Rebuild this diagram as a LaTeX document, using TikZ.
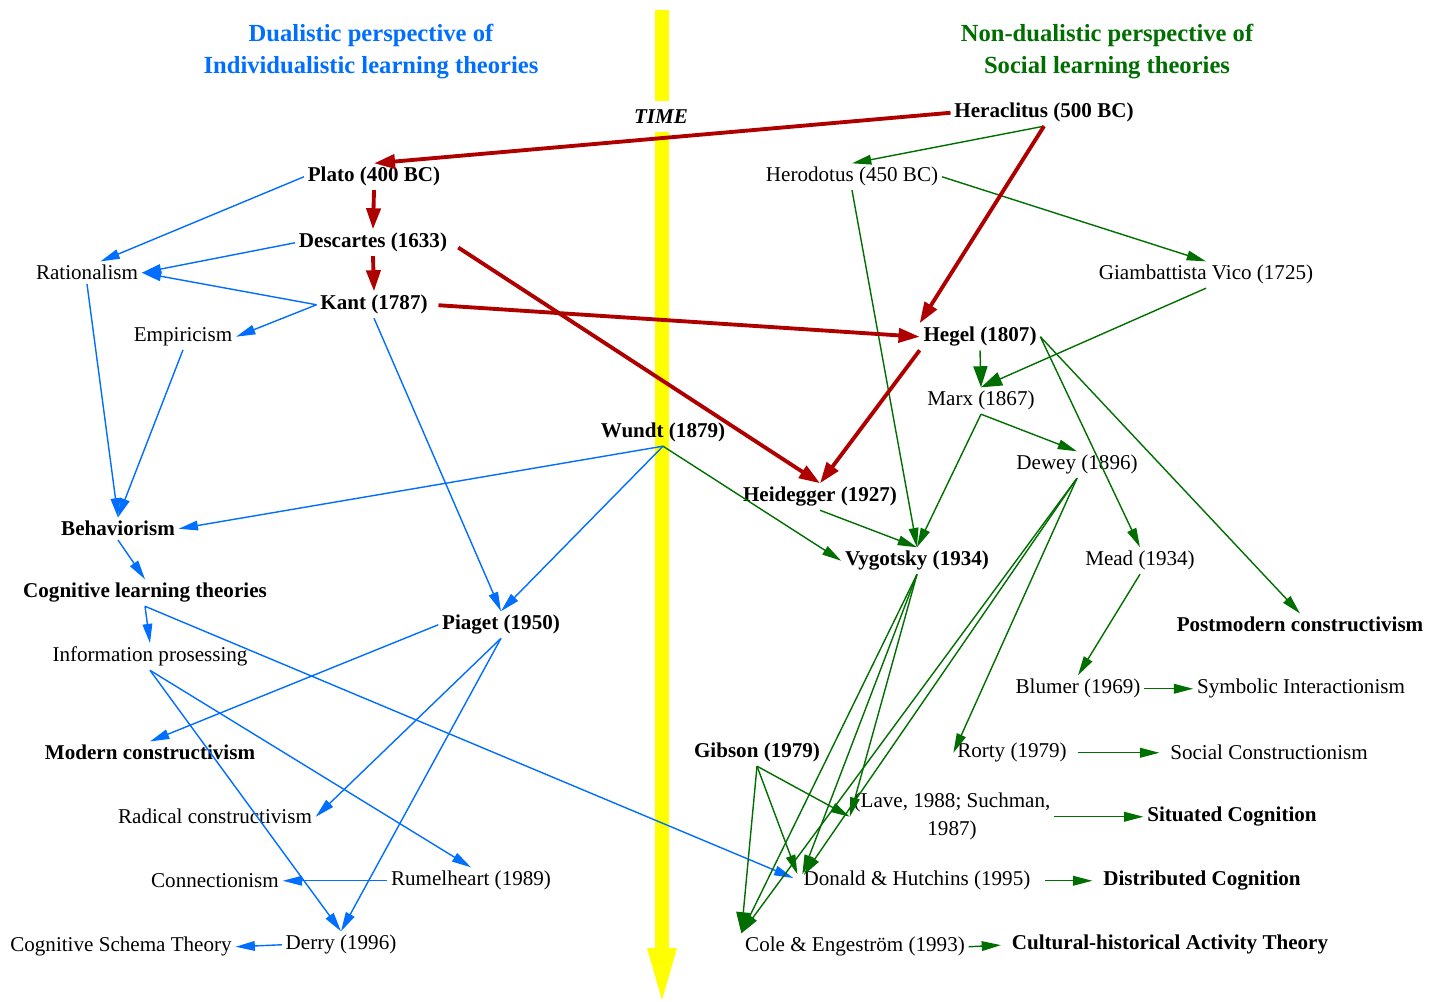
\documentclass[tikz,border=0pt]{standalone}
\usepackage{fontspec}
\setmainfont{Liberation Serif}
\usetikzlibrary{arrows.meta}

\definecolor{dualblue}{RGB}{0,110,255}
\definecolor{socgreen}{RGB}{0,110,0}
\definecolor{histred}{RGB}{175,0,0}
\definecolor{timeyellow}{RGB}{255,255,0}

\begin{document}
\begin{tikzpicture}[x=0.02cm,y=-0.02cm,
    every node/.style={font=\fontsize{12}{16}\selectfont, inner sep=2pt, yshift=-1pt},
    major/.style={font=\fontsize{12}{16}\selectfont\bfseries},
    title/.style={font=\fontsize{14}{18.5}\selectfont\bfseries, align=center, yshift=-1pt},
    timelbl/.style={font=\fontsize{12}{16}\selectfont\bfseries\itshape, fill=white, inner xsep=1pt, inner ysep=5pt},
    redarr/.style={histred, line width=2.2pt, -{Triangle[length=12pt,width=8pt]}},
    bluearr/.style={dualblue, line width=0.8pt, -{Triangle[length=11pt,width=5.5pt]}},
    greenarr/.style={socgreen, line width=0.8pt, -{Triangle[length=11pt,width=5.5pt]}},
    bighead/.style={-{Triangle[length=12pt,width=8pt]}}]

    \useasboundingbox (0,0) rectangle (1443,1001);

    % Time axis
    \fill[timeyellow] (655,10) rectangle (669,950);
    \fill[timeyellow] (647,948) -- (677,948) -- (662,1000) -- cycle;
    \node[timelbl] (time) at (661,115) {TIME};

    % Titles
    \node[title, dualblue] (lefttitle) at (371,48) {Dualistic perspective of\\Individualistic learning theories};
    \node[title, socgreen] (righttitle) at (1107,48) {Non-dualistic perspective of\\Social learning theories};

    % Individualistic side
    \node[major] (plato) at (374,175) {Plato (400 BC)};
    \node[major] (desc) at (373,241) {Descartes (1633)};
    \node[major] (kant) at (374,303) {Kant (1787)};
    \node (rat) at (87,271) {Rationalism};
    \node (emp) at (183,335) {Empiricism};
    \node[major] (wundt) at (663,431) {Wundt (1879)};
    \node[major] (beh) at (118,527) {Behaviorism};
    \node[major] (cog) at (145,591) {Cognitive learning theories};
    \node[major] (piaget) at (501,623) {Piaget (1950)};
    \node (info) at (150,655) {Information prosessing};
    \node[major] (modc) at (150,751) {Modern constructivism};
    \node (radc) at (215,815) {Radical constructivism};
    \node (conn) at (215,879) {Connectionism};
    \node (rum) at (471,879) {Rumelheart (1989)};
    \node (schema) at (121,945) {Cognitive Schema Theory};
    \node (derry) at (341,943) {Derry (1996)};

    % Social side
    \node[major] (her) at (1044,111) {Heraclitus (500 BC)};
    \node (hero) at (852,175) {Herodotus (450 BC)};
    \node (vico) at (1206,273) {Giambattista Vico (1725)};
    \node[major] (hegel) at (980,335) {Hegel (1807)};
    \node (marx) at (981,399) {Marx (1867)};
    \node (dewey) at (1077,463) {Dewey (1896)};
    \node[major] (heid) at (820,495) {Heidegger (1927)};
    \node[major] (vyg) at (917,559) {Vygotsky (1934)};
    \node (mead) at (1140,559) {Mead (1934)};
    \node[major] (post) at (1300,623) {Postmodern constructivism};
    \node (blumer) at (1078,687) {Blumer (1969)};
    \node (symb) at (1301,687) {Symbolic Interactionism};
    \node[major] (gibson) at (757,751) {Gibson (1979)};
    \node (rorty) at (1012,751) {Rorty (1979)};
    \node (socc) at (1269,751) {Social Constructionism};
    \node[align=center] (lave) at (952,815) {(Lave, 1988; Suchman,\\1987)};
    \node[major] (situ) at (1232,815) {Situated Cognition};
    \node (donald) at (917,879) {Donald \& Hutchins (1995)};
    \node[major] (distc) at (1202,879) {Distributed Cognition};
    \node (cole) at (855,945) {Cole \& Engestr\"om (1993)};
    \node[major] (chat) at (1170,943) {Cultural-historical Activity Theory};

    % Blue links
    \draw[bluearr] (plato.west) -- (rat.40);
    \draw[bluearr] (desc.west) -- (rat.east);
    \draw[bluearr] (kant.west) -- (rat.east);
    \draw[bluearr] (kant.west) -- (emp.east);
    \draw[bluearr] (rat.south) -- (beh.north);
    \draw[bluearr] (emp.south) -- (beh.north);
    \draw[bluearr] (kant.south) -- (piaget.north);
    \draw[bluearr] (wundt.south) -- (piaget.north);
    \draw[bluearr] (wundt.south) -- (beh.east);
    \draw[bluearr] (beh.south) -- (cog.north);
    \draw[bluearr] (cog.south) -- (info.north);
    \draw[bluearr, shorten >=4pt] (cog.south) -- (donald.west);
    \draw[bluearr] (piaget.west) -- (modc.north);
    \draw[bluearr] (piaget.south) -- (radc.east);
    \draw[bluearr] (piaget.south) -- (derry.north);
    \draw[bluearr] (info.south) -- (rum.north);
    \draw[bluearr] (info.south) -- (derry.north);
    \draw[bluearr] (rum.west) -- (conn.east);
    \draw[bluearr] (derry.west) -- (schema.east);

    % Green links
    \draw[greenarr] (her.south) -- (hero.north);
    \draw[greenarr] (hero.east) -- (vico.north);
    \draw[greenarr] (hero.south) -- (vyg.north);
    \draw[greenarr, bighead] (vico.south) -- (marx.north);
    \draw[greenarr, bighead] (hegel.south) -- (marx.north);
    \draw[greenarr] (hegel.east) -- (mead.north);
    \draw[greenarr] (hegel.east) -- (post.north);
    \draw[greenarr] (marx.south) -- (dewey.north);
    \draw[greenarr] (marx.south) -- (vyg.north);
    \draw[greenarr] (wundt.south) -- (vyg.west);
    \draw[greenarr] (heid.south) -- (vyg.north);
    \draw[greenarr] (dewey.south) -- (rorty.west);
    \draw[greenarr, shorten >=4pt] (dewey.south) -- (donald.west);
    \draw[greenarr] (dewey.south) -- (cole.north west);
    \draw[greenarr] (vyg.south) -- (lave.west);
    \draw[greenarr, shorten >=4pt] (vyg.south) -- (donald.west);
    \draw[greenarr] (vyg.south) -- (cole.north west);
    \draw[greenarr, bighead] (gibson.south) -- (cole.north west);
    \draw[greenarr, shorten >=4pt] (gibson.south) -- (donald.west);
    \draw[greenarr] (gibson.south) -- (lave.west);
    \draw[greenarr] (mead.south) -- (blumer.north);
    \draw[greenarr] (blumer.east) -- (symb.west);
    \draw[greenarr, shorten <=4pt, shorten >=4pt] (rorty.east) -- (socc.west);
    \draw[greenarr] (lave.east) -- (situ.west);
    \draw[greenarr, shorten <=6pt, shorten >=4pt] (donald.east) -- (distc.west);
    \draw[greenarr, shorten >=4pt] (cole.east) -- (chat.west);

    % Red links
    \draw[redarr] (her.west) -- (plato.north);
    \draw[redarr] (plato.south) -- (desc.north);
    \draw[redarr] (desc.south) -- (kant.north);
    \draw[redarr, shorten <=4pt] (kant.east) -- (hegel.west);
    \draw[redarr, shorten <=5pt] (desc.east) -- (heid.north);
    \draw[redarr] (her.south) -- (hegel.north west);
    \draw[redarr] (hegel.south west) -- (heid.north);

\end{tikzpicture}
\end{document}
